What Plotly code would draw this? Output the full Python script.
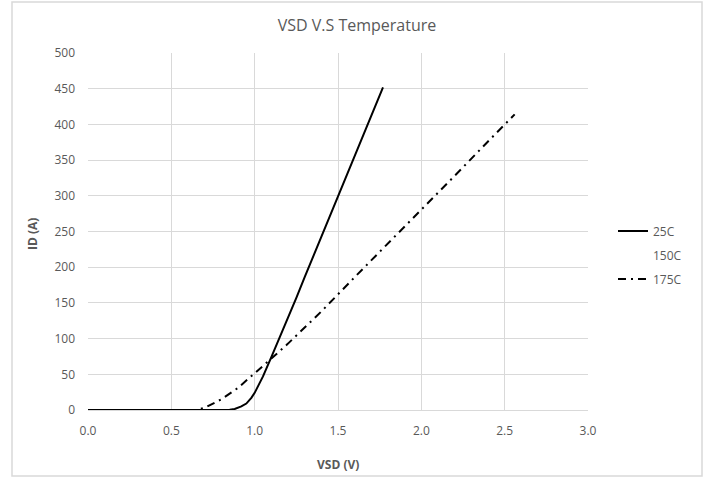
import plotly.graph_objects as go

# --- data ---
vsd_25 = [0.0, 0.50, 0.80, 0.85, 0.88, 0.92, 0.95, 0.98, 1.00, 1.05, 1.10, 1.15, 1.20, 1.25, 1.30, 1.40, 1.50, 1.60, 1.70, 1.77]
id_25 = [0, 0, 0, 0.5, 1.5, 5, 9, 17, 24, 47, 74, 101, 129, 157, 186, 243, 300, 357, 414, 452]

vsd_175 = [0.0, 0.65, 0.70, 0.80, 0.90, 1.00, 1.10, 1.20, 1.30, 1.40, 1.60, 1.80, 2.00, 2.20, 2.40, 2.56]
id_175 = [0, 0, 3, 15, 31, 51, 72, 93, 115, 138, 186, 233, 281, 328, 376, 414]

vsd_150 = [None]
id_150 = [None]

x_ticks = [0.0, 0.5, 1.0, 1.5, 2.0, 2.5, 3.0]
y_ticks = [0, 50, 100, 150, 200, 250, 300, 350, 400, 450, 500]

GRAY = "#595959"
GRID = "#d9d9d9"
FONT = "Open Sans"

fig = go.Figure()
fig.add_trace(go.Scatter(x=vsd_25, y=id_25, mode="lines", name="25C", legendgroup="a",
                         line=dict(color="black", width=2)))
fig.add_trace(go.Scatter(x=vsd_150, y=id_150, mode="lines", name="150C", legendgroup="b",
                         line=dict(color="rgba(0,0,0,0)", width=2)))
fig.add_trace(go.Scatter(x=vsd_175, y=id_175, mode="lines", name="175C", legendgroup="c",
                         line=dict(color="black", width=2, dash="8px,5px,2px,5px")))

fig.update_layout(
    width=711, height=477,
    margin=dict(l=88, r=123, t=53, b=67),
    paper_bgcolor="white", plot_bgcolor="white",
    font=dict(family=FONT, size=12, color=GRAY),
    title=dict(text="VSD V.S Temperature", x=357 / 711, xref="container",
               xanchor="center", y=1 - 25 / 477, yanchor="middle",
               font=dict(family=FONT, size=16, color=GRAY)),
    legend=dict(x=1.05, y=0.434, xanchor="left", yanchor="middle",
                font=dict(family=FONT, size=12, color=GRAY),
                bgcolor="rgba(0,0,0,0)", traceorder="grouped", tracegroupgap=5),
    xaxis=dict(range=[0, 3], tickvals=x_ticks, ticktext=[f"{v:.1f}" for v in x_ticks],
               showgrid=True, gridcolor=GRID, gridwidth=1, zeroline=False,
               showline=True, linecolor=GRID, linewidth=1, mirror=False,
               ticks="", ticklabelstandoff=10, automargin=False),
    yaxis=dict(range=[0, 500], tickvals=y_ticks,
               showgrid=True, gridcolor=GRID, gridwidth=1, zeroline=False,
               showline=False, ticks="", ticklabelstandoff=12, automargin=False),
    annotations=[
        dict(text="<b>ID (A)</b>", xref="paper", yref="paper",
             x=(32 - 88) / 500, y=(410 - 234) / 357, xanchor="center", yanchor="middle",
             textangle=-90, showarrow=False,
             font=dict(family=FONT, size=12, color=GRAY)),
        dict(text="<b>VSD (V)</b>", xref="paper", yref="paper",
             x=0.5, y=(410 - 465) / 357, xanchor="center", yanchor="middle",
             showarrow=False, font=dict(family=FONT, size=12, color=GRAY)),
    ],
    shapes=[dict(type="rect", xref="paper", yref="paper",
                 x0=(12 - 88) / 500, x1=(702 - 88) / 500,
                 y0=(410 - 476) / 357, y1=(410 - 2) / 357,
                 line=dict(color=GRID, width=1.5), fillcolor="rgba(0,0,0,0)", layer="below")],
)

fig.write_html("out.html")
